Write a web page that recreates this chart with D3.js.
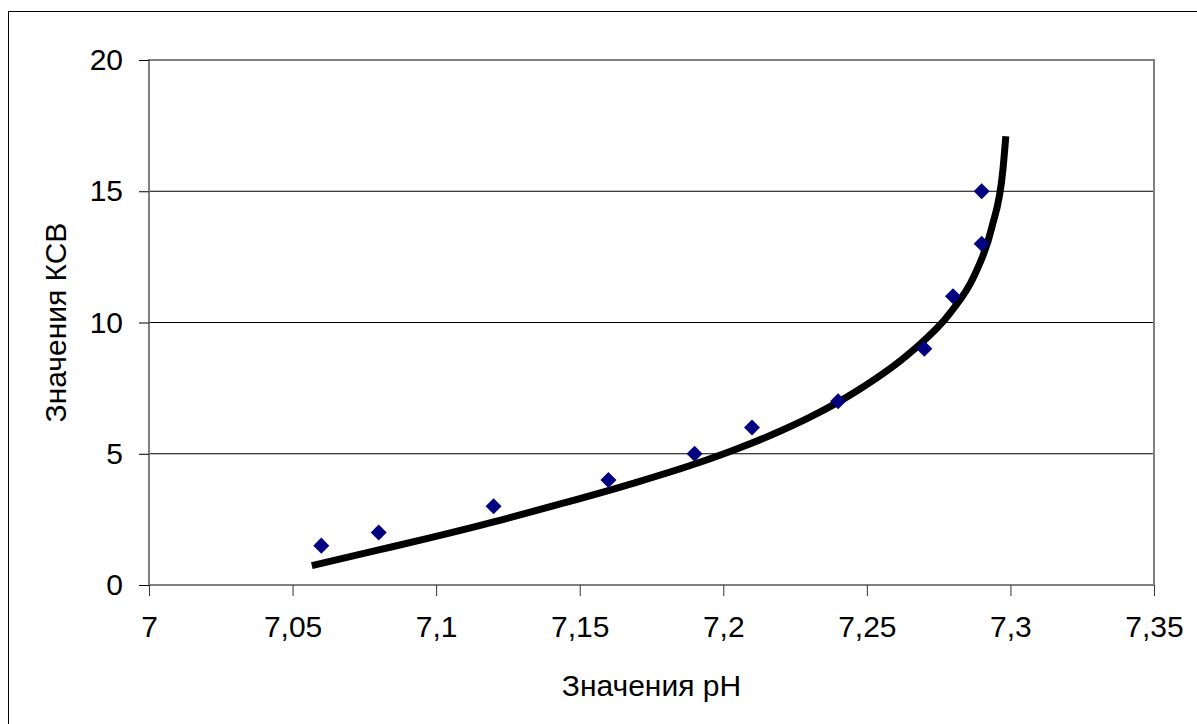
<!DOCTYPE html>
<html>
<head>
<meta charset="utf-8">
<script src="https://cdn.jsdelivr.net/npm/d3@7"></script>
<style>
  html, body { margin: 0; padding: 0; background: #fff; }
  svg { display: block; }
  text { font-family: Arial, "Liberation Sans", sans-serif; fill: #000; }
</style>
</head>
<body>
<svg id="chart" width="1197" height="724"></svg>
<script>
// Measured points: pH vs KSV
const phValues  = [7.06, 7.08, 7.12, 7.16, 7.19, 7.21, 7.24, 7.27, 7.28, 7.29, 7.29];
const ksvValues = [1.5, 2, 3, 4, 5, 6, 7, 9, 11, 13, 15];

// Trend curve, sampled along its length
const trendPh  = [7.0567, 7.0804, 7.0978, 7.1222, 7.1445, 7.1692, 7.1919, 7.2044, 7.2197, 7.2302,
                  7.2469, 7.2650, 7.2793, 7.2873, 7.2935, 7.2974, 7.2984];
const trendKsv = [0.735, 1.345, 1.798, 2.465, 3.124, 3.893, 4.674, 5.170, 5.855, 6.392,
                  7.417, 8.842, 10.404, 11.764, 13.615, 15.836, 17.093];

// Axis ticks
const xTicks = [7, 7.05, 7.1, 7.15, 7.2, 7.25, 7.3, 7.35];
const yTicks = [0, 5, 10, 15, 20];

const xTitle = "Значения pH";
const yTitle = "Значения КСВ";

const svg = d3.select("#chart");
const plot = { left: 149, right: 1154, top: 60, bottom: 585 };

const x = d3.scaleLinear().domain([7, 7.35]).range([plot.left, plot.right]);
const y = d3.scaleLinear().domain([0, 20]).range([plot.bottom, plot.top]);

const fmt = d => String(d).replace(".", ",");

// Outer chart frame
svg.append("rect")
  .attr("x", 8.5).attr("y", 11.5)
  .attr("width", 1200).attr("height", 720)
  .attr("fill", "#fff").attr("stroke", "#000").attr("stroke-width", 1);

// Horizontal gridlines
svg.append("g")
  .selectAll("line")
  .data(yTicks.filter(t => t > 0 && t < 20))
  .join("line")
  .attr("x1", plot.left).attr("x2", plot.right)
  .attr("y1", d => y(d)).attr("y2", d => y(d))
  .attr("stroke", "#000").attr("stroke-width", 1);

// Plot area border
svg.append("rect")
  .attr("x", plot.left).attr("y", plot.top)
  .attr("width", plot.right - plot.left).attr("height", plot.bottom - plot.top)
  .attr("fill", "none").attr("stroke", "#808080").attr("stroke-width", 2);

// X axis
const xAxis = svg.append("g")
  .attr("transform", `translate(0,${plot.bottom})`)
  .call(d3.axisBottom(x).tickValues(xTicks).tickFormat(fmt).tickSize(11).tickPadding(20));
xAxis.select(".domain").remove();
xAxis.selectAll(".tick line").attr("stroke", "#333").attr("stroke-width", 1);
xAxis.selectAll(".tick text").attr("font-size", 30).attr("font-family", "Arial, 'Liberation Sans', sans-serif");

// Y axis
const yAxis = svg.append("g")
  .attr("transform", `translate(${plot.left},0)`)
  .call(d3.axisLeft(y).tickValues(yTicks).tickFormat(fmt).tickSize(10).tickPadding(16));
yAxis.select(".domain").remove();
yAxis.selectAll(".tick line").attr("stroke", "#000").attr("stroke-width", 1);
yAxis.selectAll(".tick text").attr("font-size", 30).attr("font-family", "Arial, 'Liberation Sans', sans-serif");

// Trend curve
const trend = trendPh.map((p, i) => ({ p, k: trendKsv[i] }));
svg.append("path")
  .datum(trend)
  .attr("fill", "none")
  .attr("stroke", "#000")
  .attr("stroke-width", 7)
  .attr("d", d3.line().x(d => x(d.p)).y(d => y(d.k)).curve(d3.curveMonotoneX));

// Data markers (diamonds)
const pts = phValues.map((p, i) => ({ p, k: ksvValues[i] }));
const diamond = d3.symbol().type(d3.symbolSquare).size(128);
svg.append("g")
  .selectAll("path")
  .data(pts)
  .join("path")
  .attr("d", diamond)
  .attr("transform", d => `translate(${x(d.p)},${y(d.k)}) rotate(45)`)
  .attr("fill", "#000080");

// Axis titles
svg.append("text")
  .attr("x", (plot.left + plot.right) / 2).attr("y", 696)
  .attr("text-anchor", "middle").attr("font-size", 30)
  .text(xTitle);

svg.append("text")
  .attr("transform", `translate(66,${(plot.top + plot.bottom) / 2}) rotate(-90)`)
  .attr("text-anchor", "middle").attr("font-size", 30)
  .text(yTitle);
</script>
</body>
</html>
